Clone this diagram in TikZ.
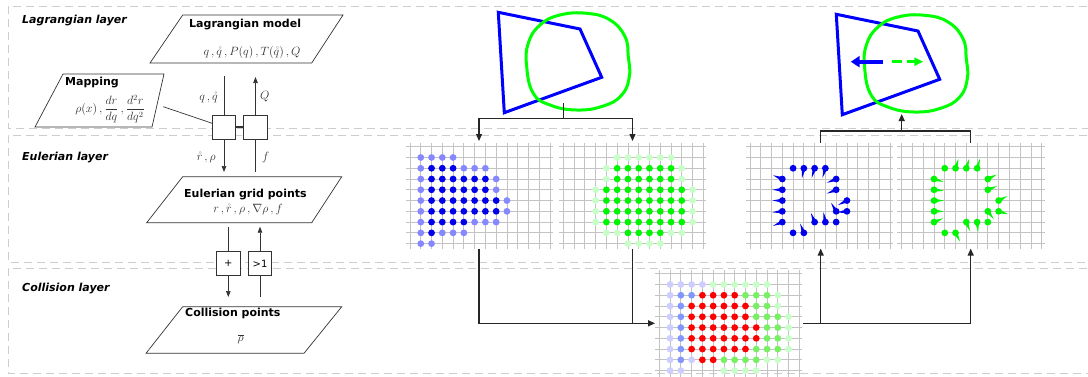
\documentclass[tikz,border=0pt]{standalone}
\usepackage{fontspec}
\usepackage{amsmath}
\newfontfamily\dv{DejaVu Sans}
\usetikzlibrary{arrows.meta,calc}
\definecolor{lgrid}{RGB}{195,195,195}
\definecolor{dashc}{RGB}{205,205,205}
\definecolor{bdark}{RGB}{0,0,235}
\definecolor{blight}{RGB}{135,135,255}
\definecolor{bvl}{RGB}{205,205,255}
\definecolor{bmed}{RGB}{130,150,255}
\definecolor{gdark}{RGB}{0,245,0}
\definecolor{glight}{RGB}{200,255,200}
\definecolor{gmed}{RGB}{120,240,100}
\definecolor{rdot}{RGB}{255,0,0}
\newcommand\gs{10.77}
\newcommand\mkgrid[3]{%
  \foreach \i in {0,...,13} \draw[gridline] ({#1+\i*\gs},{#2-3.7}) -- ({#1+\i*\gs},{#3});
  \foreach \j in {0,...,9} \draw[gridline] ({#1-4.5},{#2+\j*\gs}) -- ({#1+13*\gs+3},{#2+\j*\gs});}
\newcommand\gdot[5]{\fill[#5] ({#1+#3*\gs},{#2+#4*\gs}) circle (3.4pt);}
\newcommand\sdot[6]{%
  \fill[#6] ({#1+#3*\gs},{#2+#4*\gs}) circle (3.4pt);
  \fill[#6, shift={({#1+#3*\gs},{#2+#4*\gs})}, rotate=#5] (0,2) -- (10,0) -- (0,-2) -- cycle;}
\tikzset{
  layer/.style={draw=dashc, line width=0.9pt, dash pattern=on 8pt off 5pt},
  gridline/.style={draw=lgrid, line width=0.8pt},
  pbox/.style={draw=black!80, line width=0.7pt},
  title/.style={font=\dv\bfseries\fontsize{11}{13}\selectfont, inner sep=0pt, anchor=west},
  layerlbl/.style={font=\dv\bfseries\itshape\fontsize{11}{13}\selectfont, inner sep=0pt, anchor=west},
  mlbl/.style={font=\fontsize{12}{14}\selectfont, inner sep=0pt, text=black!80},
  sq/.style={draw=black!80, fill=white, line width=0.8pt, minimum width=23.4pt, minimum height=24.5pt, inner sep=0pt, font=\dv\fontsize{10}{12}\selectfont},
  conn/.style={draw=black!80, line width=0.7pt},
  cconn/.style={draw=black!85, line width=1.3pt},
  tip/.style={-{Triangle[length=6pt,width=4.5pt]}},
  btip/.style={-{Triangle[length=7pt,width=6pt]}},
  hidden/.style={inner sep=0pt, outer sep=0pt, draw=none}
}
\begin{document}
\begin{tikzpicture}[x=1pt,y=-1pt]
\useasboundingbox (0,0) rectangle (1088,376);
\clip (0,0) rectangle (1088,376);
\fill[white] (0,0) rectangle (1088,376);
% layers
\draw[layer] (1100,6) -- (8,6) -- (8,128) -- (1100,128);
\draw[layer] (1100,135) -- (8,135) -- (8,262) -- (1100,262);
\draw[layer] (1100,268) -- (8,268) -- (8,373) -- (1100,373);
\node[layerlbl] (lagL) at (22,21) {Lagrangian layer};
\node[layerlbl] (eulL) at (22,158) {Eulerian layer};
\node[layerlbl] (colL) at (22,288.5) {Collision layer};
% Lagrangian model
\draw[pbox] (182.7,15) -- (343,15) -- (311.7,63) -- (150,63) -- cycle;
\node[title] (lmt) at (189,25) {Lagrangian model};
\node[mlbl] (lmm) at (252,52) {$q\,,\mathring{q}\,,P(q)\,,T(\mathring{q})\,,Q$};
% Mapping
\draw[pbox] (63,74) -- (164,74) -- (152,127) -- (35,127) -- cycle;
\node[title] (mpt) at (65,83) {Mapping};
\node[mlbl] (mpm) at (110,109) {$\rho(x)\,,\dfrac{dr}{dq}\,,\dfrac{d^2r}{dq^2}$};
% Eulerian grid points
\draw[pbox] (182.7,176.7) -- (341.7,176.7) -- (311.7,222.7) -- (146.7,222.7) -- cycle;
\node[title] (ept) at (184,195) {Eulerian grid points};
\node[mlbl] (epm) at (248,209) {$r\,,\mathring{r}\,,\rho\,,\nabla\rho\,,f$};
% Collision points
\draw[pbox] (182.7,306.7) -- (341.7,306.7) -- (304,353.3) -- (146,353.3) -- cycle;
\node[title] (cpt) at (185,313.5) {Collision points};
\node[mlbl] (cpm) at (240.7,339) {$\overline{\rho}$};
% squares
\node[sq] (s1) at (224,127.2) {};
\node[sq] (s2) at (255.5,127.2) {};
\node[sq] (sp) at (228.3,263.5) {+};
\node[sq] (sg) at (260,263.5) {>1};
\coordinate (a1) at (224,76);
\coordinate (a2) at (255.5,77);
\coordinate (a3) at (224,172);
\coordinate (a4) at (255.5,172);
\coordinate (a5) at (228.3,226.7);
\coordinate (a6) at (260,226.7);
\coordinate (a7) at (228.3,297);
\coordinate (a8) at (260,297);
\coordinate (mp) at (163.3,106.7);
\draw[conn] (a1) -- (s1.north);
\draw[conn,tip] (s2.north) -- (a2);
\draw[conn,tip] (s1.south) -- (a3);
\draw[conn] (a4) -- (s2.south);
\draw[conn] (a5) -- (sp.north);
\draw[conn,tip] (sg.north) -- (a6);
\draw[conn,tip] (sp.south) -- (a7);
\draw[conn] (a8) -- (sg.south);
\draw[conn] (mp) -- ([yshift=4pt]s1.west);
\draw[conn, line width=1.8pt] (s1.east) -- (s2.west);
\node[mlbl, anchor=east] (lq) at (218,97) {$q\,,\mathring{q}$};
\node[mlbl, anchor=west] (lQ) at (260,97) {$Q$};
\node[mlbl, anchor=east] (lr) at (216,157) {$\mathring{r}\,,\rho$};
\node[mlbl, anchor=west] (lf) at (262,157) {$f$};
% shapes top-left
\draw[blue, line width=3pt, line join=miter] (498.3,12.3) -- (580,29) -- (601.7,77.3) -- (504.3,112.7) -- cycle;
\draw[green, line width=3pt] plot[smooth cycle, tension=0.75] coordinates {(526.7,66.7) (528.3,43.3) (540,25) (560,15) (586.7,13.3) (610,20) (625,36.7) (628.3,56.7) (629.3,76.7) (621.7,95) (603.3,106) (576.7,110) (550,105) (533.3,93.3)};
% shapes top-right
\begin{scope}[shift={(338,2)}]
\draw[blue, line width=3pt, line join=miter] (498.3,12.3) -- (580,29) -- (601.7,77.3) -- (504.3,112.7) -- cycle;
\draw[green, line width=3pt] plot[smooth cycle, tension=0.75] coordinates {(526.7,66.7) (528.3,43.3) (540,25) (560,15) (586.7,13.3) (610,20) (625,36.7) (628.3,56.7) (629.3,76.7) (621.7,95) (603.3,106) (576.7,110) (550,105) (533.3,93.3)};
\end{scope}
\coordinate (fb1) at (883.3,61.7);
\coordinate (fb2) at (850.7,61.7);
\coordinate (fg1) at (891.7,61.7);
\coordinate (fg2) at (923.3,61.7);
\draw[blue, line width=4pt, -{Triangle[length=9pt,width=11pt]}] (fb1) -- (fb2);
\draw[green, line width=2.5pt, dash pattern=on 10pt off 5pt, -{Triangle[length=9pt,width=8pt]}] (fg1) -- (fg2);
% grid nodes
\node[hidden, minimum width=148pt, minimum height=105.6pt] (g1) at (479,195.8) {};
\node[hidden, minimum width=148pt, minimum height=105.6pt] (g2) at (632.5,195.8) {};
\node[hidden, minimum width=148pt, minimum height=105.6pt] (g4) at (820.7,195.8) {};
\node[hidden, minimum width=148pt, minimum height=105.6pt] (g5) at (970.7,195.8) {};
\node[hidden, minimum width=148pt, minimum height=106pt] (gc) at (729,323.3) {};
% grids
\mkgrid{410}{146.7}{248.6}
\mkgrid{563.3}{146.7}{248.6}
\mkgrid{750}{146.7}{248.6}
\mkgrid{901.7}{146.7}{248.6}
\mkgrid{659.3}{273.7}{380}
% grid 1 dots
\foreach \j/\l in {2/{2,3,4},3/{2,...,7},4/{2,...,7},5/{2,...,8},6/{2,...,8},7/{2,...,5},8/{2}} {\foreach \i in \l {\gdot{410}{146.7}{\i}{\j}{bdark}}}
\foreach \j/\l in {1/{1,2,3,4},2/{1,5,6,7},3/{1,8},4/{1,8},5/{1,9},6/{1,9},7/{1,6,7,8},8/{1,3,4,5},9/{1,2}} {\foreach \i in \l {\gdot{410}{146.7}{\i}{\j}{blight}}}
% grid 2 dots
\foreach \j/\l in {2/{5,...,10},3/{5,...,10},4/{4,...,11},5/{4,...,11},6/{4,...,11},7/{4,...,11},8/{6,...,9}} {\foreach \i in \l {\gdot{563.3}{146.7}{\i}{\j}{gdark}}}
\foreach \j/\l in {1/{5,...,10},2/{4,11},3/{4,11},4/{3,12},5/{3,12},6/{3,12},7/{3,12},8/{4,5,10,11},9/{6,...,9}} {\foreach \i in \l {\gdot{563.3}{146.7}{\i}{\j}{glight}}}
% collision dots
\foreach \j/\l in {1/{1,...,4},2/{1},3/{1},4/{1},5/{1},6/{1},7/{1},8/{1,3},9/{1,2}} {\foreach \i in \l {\gdot{659.3}{273.7}{\i}{\j}{bvl}}}
\foreach \j/\l in {2/{2,3},3/{2},4/{2},5/{2},6/{2},7/{2},8/{2}} {\foreach \i in \l {\gdot{659.3}{273.7}{\i}{\j}{bmed}}}
\foreach \j/\l in {2/{4,...,7},3/{3,...,8},4/{3,...,8},5/{3,...,9},6/{3,...,9},7/{3,...,8},8/{4,5}} {\foreach \i in \l {\gdot{659.3}{273.7}{\i}{\j}{rdot}}}
\foreach \j/\l in {2/{8,9,10},3/{9,10},4/{9,10,11},5/{10,11},6/{10,11},7/{9,10,11},8/{6,...,9}} {\foreach \i in \l {\gdot{659.3}{273.7}{\i}{\j}{gmed}}}
\foreach \j/\l in {1/{5,...,10},2/{11},3/{11},4/{12},5/{12},6/{12},7/{12},8/{10,11},9/{6,...,9}} {\foreach \i in \l {\gdot{659.3}{273.7}{\i}{\j}{glight}}}
% grid 4 (blue forces)
\foreach \i/\j in {4/2,8/7,4/8} {\gdot{750}{146.7}{\i}{\j}{bdark}}
\foreach \i/\j/\a in {5/2/259,6/2/253,7/2/253,3/3/158,8/3/202,3/4/180,8/4/202,3/5/180,9/5/207,3/6/186,8/6/121,9/6/186,3/7/202,6/7/112,7/7/101,5/8/112} {\sdot{750}{146.7}{\i}{\j}{\a}{bdark}}
% grid 5 (green forces)
\foreach \i/\j in {4/2,8/7,4/8} {\gdot{901.7}{146.7}{\i}{\j}{gdark}}
\foreach \i/\j/\a in {5/2/73,6/2/73,7/2/73,3/3/-17,8/3/27,3/4/-6,8/4/22,3/5/0,9/5/27,3/6/0,8/6/-53,9/6/-17,3/7/22,6/7/-68,7/7/-84,5/8/-63} {\sdot{901.7}{146.7}{\i}{\j}{\a}{gdark}}
% right connectors
\coordinate (p1) at (563.3,103);
\coordinate (j1) at (563.3,118.3);
\draw[cconn] (p1) -- (j1);
\draw[cconn,btip,shorten >=2pt] (j1) -| (g1.north);
\draw[cconn,btip,shorten >=2pt] (j1) -| (g2.north);
\coordinate (j2) at (901.7,131);
\coordinate (p2) at (901.7,114);
\draw[cconn] (g4.north) |- (j2) -| (g5.north);
\draw[cconn,btip] (j2) -- (p2);
\draw[cconn,btip] (g1.south) |- (gc.west);
\draw[cconn] (g2.south) -- (g2.south |- gc.west);
\draw[cconn,btip] (gc.east) -| (g5.south);
\draw[cconn,btip] (gc.east -| g4.south) -- (g4.south);
\end{tikzpicture}
\end{document}
